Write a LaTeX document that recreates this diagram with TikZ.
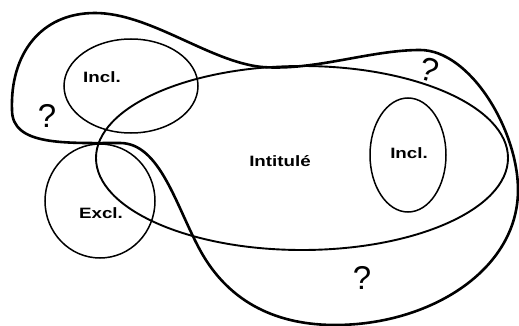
\documentclass[tikz,border=0pt]{standalone}
\usepackage{fontspec}
\setmainfont{Liberation Sans}
\newfontfamily\labfont[FakeStretch=1.25]{Liberation Sans}
\begin{document}
\begin{tikzpicture}[x=1pt,y=-1pt,
  thin line/.style={line width=1.5pt},
  thick line/.style={line width=2.6pt},
  lab/.style={font=\labfont\bfseries\fontsize{15}{17}\selectfont},
  qmark/.style={font=\fontsize{33}{36}\selectfont}]
\useasboundingbox (0,0) rectangle (519,326);
% outer blob
\draw[thick line, line join=round]
  (12,110) .. controls (10,55) and (40,13) .. (95,13)
  .. controls (150,13) and (210,62) .. (262,67)
  .. controls (315,71) and (370,50) .. (420,50)
  .. controls (470,50) and (518,130) .. (518,190)
  .. controls (518,270) and (430,325) .. (335,325)
  .. controls (280,325) and (230,305) .. (200,250)
  .. controls (176,206) and (160,143) .. (120,143)
  .. controls (65,143) and (12,146) .. cycle;
% ellipses
\draw[line width=1.9pt] (302,158) ellipse [x radius=206pt, y radius=92pt];
\draw[thin line] (131,86) ellipse [x radius=67pt, y radius=47pt];
\draw[thin line] (100,201) ellipse [x radius=55pt, y radius=57pt];
\draw[thin line] (408,155) ellipse [x radius=38pt, y radius=57pt];
% labels
\node[lab] (incla) at (102,77) {Incl.};
\node[lab] (inclb) at (409,153) {Incl.};
\node[lab] (excl) at (101,213) {Excl.};
\node[lab] (intit) at (280,161) {Intitulé};
\node[qmark] (qa) at (47,116) {?};
\node[qmark, rotate=-15] (qb) at (429,70) {?};
\node[qmark] (qc) at (362,278) {?};
\end{tikzpicture}
\end{document}
